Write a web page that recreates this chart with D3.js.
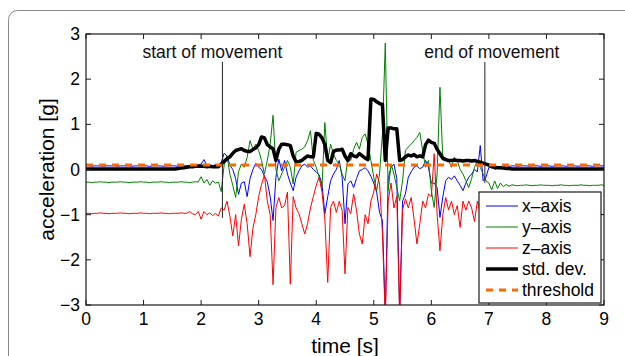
<!DOCTYPE html>
<html>
<head>
<meta charset="utf-8">
<script src="https://cdn.jsdelivr.net/npm/d3@7"></script>
<style>
  body { margin: 0; background: #fff; }
  svg { display: block; font-family: "Liberation Sans", Arial, sans-serif; }
</style>
</head>
<body>
<div id="chart"></div>
<script>
// samples every 0.05 s, from 0 s to 9 s
const sampleStep = 0.05;

const xAxisAcc = [
  0.08,0.08,0.07,0.08,0.08,0.08,0.07,0.08,0.08,0.08,0.08,0.07,0.08,0.08,0.08,0.08,0.07,0.08,0.08,0.08,
  0.08,0.08,0.07,0.08,0.08,0.08,0.08,0.07,0.08,0.08,0.08,0.08,0.07,0.08,0.08,0.08,0.07,0.09,0.08,0.10,
  0.12,0.22,0.08,0.10,0.06,0.12,0.05,0.15,0.36,0.30,0.10,0.00,-0.20,-0.55,-0.30,-0.27,-0.60,-0.20,0.00,0.14,
  0.05,0.00,-0.15,-0.27,-0.60,-1.13,-0.17,0.23,-0.03,0.20,-0.10,-0.30,-0.47,-0.17,-0.03,0.08,0.12,0.05,0.08,0.00,
  -0.05,-0.12,-0.32,-0.98,-0.60,-0.25,-0.10,0.00,0.20,-0.17,-1.20,-0.32,-0.25,-0.40,-0.20,-0.03,0.00,0.04,-0.03,-0.15,
  -0.30,-0.50,-0.95,-1.13,-3.20,-0.20,0.05,0.12,-0.20,-3.20,-0.70,-0.54,-0.17,-0.05,0.05,0.08,0.02,0.05,0.20,0.05,
  -0.30,-0.30,-0.40,-1.06,-0.60,-0.25,-0.17,-0.22,-0.14,-0.25,-0.35,-0.47,-0.30,-0.17,-0.10,0.00,-0.05,0.53,-0.25,-0.17,
  0.05,0.08,0.00,0.03,0.05,0.06,0.08,0.07,0.08,0.08,0.07,0.08,0.08,0.08,0.07,0.08,0.08,0.08,0.07,0.08,
  0.08,0.08,0.07,0.08,0.08,0.08,0.08,0.07,0.08,0.08,0.08,0.07,0.08,0.08,0.08,0.08,0.07,0.08,0.08,0.08,
  0.08
];

const yAxisAcc = [
  -0.28,-0.28,-0.29,-0.28,-0.28,-0.27,-0.28,-0.28,-0.29,-0.28,-0.28,-0.28,-0.27,-0.28,-0.28,-0.29,-0.28,-0.28,-0.28,-0.27,
  -0.28,-0.28,-0.29,-0.28,-0.28,-0.28,-0.27,-0.28,-0.28,-0.29,-0.28,-0.28,-0.28,-0.27,-0.28,-0.28,-0.29,-0.28,-0.27,-0.28,
  -0.16,-0.30,-0.22,-0.35,-0.25,-0.30,-0.28,-0.49,0.10,0.30,-0.10,-0.35,-0.62,-0.05,0.12,0.05,0.27,0.64,0.45,0.56,
  0.42,0.20,-0.10,0.20,0.56,1.20,0.00,-0.25,-0.10,0.05,0.20,0.05,-0.32,0.38,0.42,0.45,0.50,0.64,0.86,0.20,
  0.05,-0.17,-0.40,1.04,0.20,0.56,0.34,0.20,0.12,-0.10,-0.25,0.27,0.20,0.45,0.60,0.45,0.71,0.79,0.55,0.20,
  -0.17,-0.47,-0.10,0.79,2.80,-0.47,0.12,-0.10,-0.40,-0.69,-0.25,0.42,0.50,0.56,0.64,0.71,0.82,0.42,0.05,0.20,
  -0.47,-0.84,-0.10,1.82,0.20,0.25,0.20,0.05,0.27,0.20,0.00,-0.10,-0.25,-0.40,-0.20,0.05,0.20,0.05,-0.10,-0.25,
  -0.30,-0.45,-0.25,-0.42,-0.30,-0.38,-0.33,-0.37,-0.34,-0.35,-0.36,-0.35,-0.35,-0.34,-0.35,-0.36,-0.35,-0.35,-0.34,-0.35,
  -0.35,-0.35,-0.36,-0.35,-0.35,-0.34,-0.35,-0.35,-0.36,-0.35,-0.35,-0.35,-0.34,-0.35,-0.35,-0.36,-0.35,-0.35,-0.35,-0.34,
  -0.35
];

const zAxisAcc = [
  -0.97,-0.97,-0.98,-0.97,-0.97,-0.96,-0.97,-0.97,-0.98,-0.97,-0.97,-0.97,-0.96,-0.97,-0.97,-0.98,-0.97,-0.97,-0.97,-0.96,
  -0.97,-0.97,-0.98,-0.97,-0.97,-0.97,-0.96,-0.97,-0.97,-0.98,-0.97,-0.97,-0.97,-0.96,-0.97,-0.97,-0.93,-0.98,-1.00,-0.93,
  -1.10,-0.93,-1.00,-0.96,-1.02,-0.97,-1.03,-0.85,-0.90,-0.70,-1.03,-1.47,-1.00,-1.69,-1.10,-0.77,-1.20,-1.93,-1.30,-1.00,
  -0.60,-0.33,-0.12,-0.70,-1.00,-2.55,-0.84,-0.62,-0.85,-0.80,-0.50,-2.54,-0.60,-0.85,-0.98,-1.20,-1.43,-1.20,-0.85,-0.60,
  -0.35,-0.17,-0.50,-1.10,-2.50,-0.84,-0.70,-0.95,-0.70,-0.90,-2.31,-0.84,-0.98,-0.54,-0.90,-1.43,-1.65,-1.00,-1.20,-0.70,
  -0.50,-0.10,-0.30,-1.40,-3.30,-0.70,-0.30,-0.85,-0.60,-3.30,-0.90,-0.65,-0.85,-0.62,-1.10,-1.65,-1.20,-0.70,-0.85,-0.54,
  -0.60,0.35,-0.98,-1.80,-1.00,-0.62,-0.90,-0.70,-1.00,-0.80,-1.28,-0.70,-0.90,-0.70,-0.85,-1.15,-0.70,-0.95,-1.10,-0.90,
  -1.05,-0.95,-1.02,-0.97,-1.00,-0.98,-1.00,-0.99,-1.00,-0.98,-1.00,-0.99,-1.00,-1.00,-0.99,-1.00,-1.00,-0.99,-1.00,-1.00,
  -1.00,-0.99,-1.00,-1.00,-1.00,-0.99,-1.00,-1.00,-0.99,-1.00,-1.00,-1.00,-0.99,-1.00,-1.00,-0.99,-1.00,-1.00,-1.00,-0.99,
  -1.00
];

const stdDev = [
  0.01,0.01,0.01,0.01,0.01,0.01,0.01,0.01,0.01,0.01,0.01,0.01,0.01,0.01,0.01,0.01,0.01,0.01,0.01,0.01,
  0.01,0.01,0.01,0.01,0.01,0.01,0.01,0.01,0.01,0.01,0.01,0.01,0.02,0.03,0.04,0.05,0.06,0.06,0.07,0.07,
  0.07,0.07,0.06,0.07,0.06,0.06,0.06,0.12,0.18,0.24,0.28,0.36,0.42,0.44,0.46,0.42,0.40,0.40,0.44,0.48,
  0.55,0.72,0.70,0.55,0.50,0.46,0.20,0.45,0.56,0.56,0.55,0.53,0.30,0.17,0.18,0.20,0.25,0.30,0.28,0.28,
  0.80,0.78,0.70,0.55,0.20,0.15,0.40,0.43,0.43,0.45,0.30,0.20,0.35,0.30,0.28,0.35,0.30,0.25,0.22,1.56,
  1.55,1.50,1.46,1.44,0.20,0.92,0.92,0.90,0.90,0.20,0.22,0.28,0.32,0.30,0.33,0.28,0.30,0.28,0.55,0.65,
  0.60,0.58,0.45,0.35,0.25,0.22,0.20,0.20,0.21,0.20,0.20,0.19,0.20,0.20,0.19,0.20,0.18,0.16,0.14,0.12,
  0.10,0.06,0.05,0.04,0.04,0.03,0.02,0.02,0.01,0.01,0.01,0.01,0.01,0.01,0.01,0.01,0.01,0.01,0.01,0.01,
  0.01,0.01,0.01,0.01,0.01,0.01,0.01,0.01,0.01,0.01,0.01,0.01,0.01,0.01,0.01,0.01,0.01,0.01,0.01,0.01,
  0.01
];

const thresholdValue = 0.1;

const markerTimes = [2.37, 6.93];
const markerBottoms = [-1.07, -0.3];
const markerLabels = ['start of movement', 'end of movement'];

const xTicks = [0, 1, 2, 3, 4, 5, 6, 7, 8, 9];
const yTicks = [-3, -2, -1, 0, 1, 2, 3];
const legendLabels = ['x\u2013axis', 'y\u2013axis', 'z\u2013axis', 'std. dev.', 'threshold'];

const W = 625, H = 356;
const plot = { left: 86, right: 604, top: 34, bottom: 305 };

const svg = d3.select('#chart').append('svg')
  .attr('width', W)
  .attr('height', H);

// outer panel frame (rounded, runs off the page)
svg.append('rect')
  .attr('x', 8.5).attr('y', 10.5)
  .attr('width', 700).attr('height', 400)
  .attr('rx', 9)
  .attr('fill', 'none')
  .attr('stroke', '#8a8a8a')
  .attr('stroke-width', 1);

const x = d3.scaleLinear().domain([0, 9]).range([plot.left, plot.right]);
const y = d3.scaleLinear().domain([-3, 3]).range([plot.bottom, plot.top]);

svg.append('clipPath').attr('id', 'plotClip')
  .append('rect')
  .attr('x', plot.left).attr('y', plot.top)
  .attr('width', plot.right - plot.left).attr('height', plot.bottom - plot.top);

const signals = svg.append('g').attr('clip-path', 'url(#plotClip)');

const line = d3.line()
  .x((d, i) => x(i * sampleStep))
  .y(d => y(d));

//series drawn in matlab order
const series = [
  { vals: xAxisAcc, color: '#0000ff', width: 1 },
  { vals: yAxisAcc, color: '#008000', width: 1 },
  { vals: zAxisAcc, color: '#ff0000', width: 1 },
  { vals: stdDev, color: '#000000', width: 3.5 }
];

series.forEach(s => {
  signals.append('path')
    .datum(s.vals)
    .attr('d', line)
    .attr('fill', 'none')
    .attr('stroke', s.color)
    .attr('stroke-width', s.width)
    .attr('stroke-linejoin', 'round');
});

//threshold
signals.append('line')
  .attr('x1', x(0)).attr('x2', x(9))
  .attr('y1', y(thresholdValue)).attr('y2', y(thresholdValue))
  .attr('stroke', '#ff6a00')
  .attr('stroke-width', 3)
  .attr('stroke-dasharray', '7,6');

//movement markers
const labelShift = [-10, 7];
markerTimes.forEach((t, i) => {
  svg.append('line')
    .attr('x1', x(t)).attr('x2', x(t))
    .attr('y1', 62).attr('y2', y(markerBottoms[i]))
    .attr('stroke', '#222')
    .attr('stroke-width', 1);
  svg.append('text')
    .attr('x', x(t) + labelShift[i])
    .attr('y', 57.5)
    .attr('text-anchor', 'middle')
    .attr('font-size', '17.5px')
    .attr('fill', '#111')
    .text(markerLabels[i]);
});

//axes box
const axes = svg.append('g');
axes.append('rect')
  .attr('x', plot.left).attr('y', plot.top)
  .attr('width', plot.right - plot.left).attr('height', plot.bottom - plot.top)
  .attr('fill', 'none')
  .attr('stroke', '#1a1a1a')
  .attr('stroke-width', 1.2);

const tickLen = 5;
xTicks.forEach(t => {
  axes.append('line').attr('x1', x(t)).attr('x2', x(t))
    .attr('y1', plot.bottom).attr('y2', plot.bottom - tickLen)
    .attr('stroke', '#1a1a1a');
  axes.append('line').attr('x1', x(t)).attr('x2', x(t))
    .attr('y1', plot.top).attr('y2', plot.top + tickLen)
    .attr('stroke', '#1a1a1a');
  axes.append('text')
    .attr('x', x(t)).attr('y', 325)
    .attr('text-anchor', 'middle')
    .attr('font-size', '17.5px')
    .text(d3.format('d')(t));
});
yTicks.forEach(v => {
  axes.append('line').attr('x1', plot.left).attr('x2', plot.left + tickLen)
    .attr('y1', y(v)).attr('y2', y(v))
    .attr('stroke', '#1a1a1a');
  axes.append('line').attr('x1', plot.right).attr('x2', plot.right - tickLen)
    .attr('y1', y(v)).attr('y2', y(v))
    .attr('stroke', '#1a1a1a');
  axes.append('text')
    .attr('x', plot.left - 6).attr('y', y(v))
    .attr('dy', '0.35em')
    .attr('text-anchor', 'end')
    .attr('font-size', '17.5px')
    .text(d3.format('d')(v));
});

//axis labels
svg.append('text')
  .attr('x', (plot.left + plot.right) / 2).attr('y', 353)
  .attr('text-anchor', 'middle')
  .attr('font-size', '21px')
  .text('time [s]');

svg.append('text')
  .attr('transform', `translate(54,${(plot.top + plot.bottom) / 2}) rotate(-90)`)
  .attr('text-anchor', 'middle')
  .attr('font-size', '21px')
  .text('acceleration [g]');

//legend
const legend = svg.append('g').attr('transform', 'translate(479,192)');
legend.append('rect')
  .attr('width', 122).attr('height', 111)
  .attr('fill', '#fff')
  .attr('stroke', '#1a1a1a')
  .attr('stroke-width', 1.2);

const legendStyles = [
  { color: '#0000ff', width: 1, dash: null },
  { color: '#008000', width: 1, dash: null },
  { color: '#ff0000', width: 1, dash: null },
  { color: '#000000', width: 3.5, dash: null },
  { color: '#ff6a00', width: 3, dash: '7,6' }
];

legendLabels.forEach((lab, i) => {
  const ly = 14 + i * 21;
  legend.append('line')
    .attr('x1', 7).attr('x2', 39)
    .attr('y1', ly).attr('y2', ly)
    .attr('stroke', legendStyles[i].color)
    .attr('stroke-width', legendStyles[i].width)
    .attr('stroke-dasharray', legendStyles[i].dash);
  legend.append('text')
    .attr('x', 43).attr('y', ly)
    .attr('dy', '0.35em')
    .attr('font-size', '17.5px')
    .text(lab);
});
</script>
</body>
</html>
